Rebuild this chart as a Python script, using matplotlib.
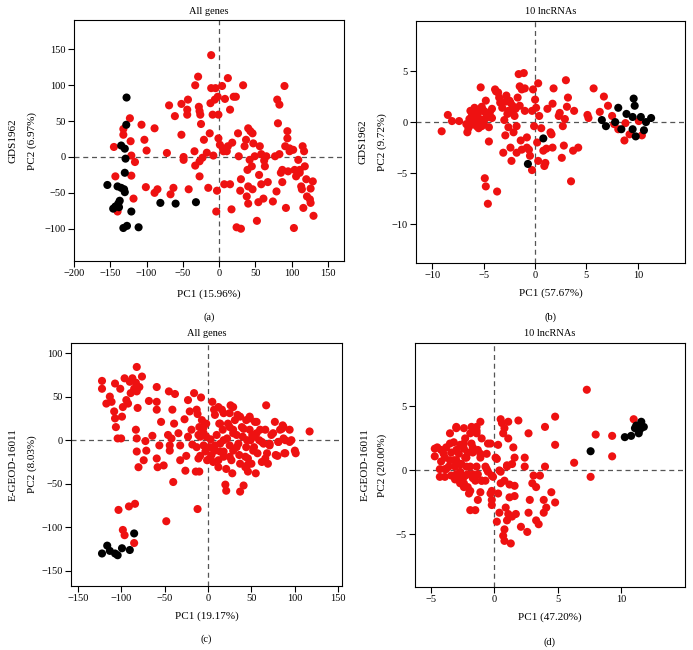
import numpy as np
import matplotlib.pyplot as plt

plt.rcParams['font.family'] = ['Liberation Serif', 'DejaVu Serif']

# ---- panel (a): GDS1962, all genes ----
a_red_x = [-145, -143, -140, -132, -132, -123, -122, -121, -116, -121, -118, -107, -103, -100, -101,
           -89, -89, -85, -72, -69, -67, -63, -61, -52, -52, -49, -49, -44, -43, -44, -42, -34, -33,
           -33, -29, -28, -27, -26, -25, -27, -27, -23, -21, -17, -15, -13, -12, -11, -11, -9, -8, -6,
           -5, -4, -3, -2, -1, -1, 1, 4, 5, 6, 7, 8, 10.5, 12, 12, 15, 15, 17, 18, 20, 23, 24, 26, 27,
           29, 30, 30, 33, 35, 37, 39, 40, 40, 38, 40, 43, 46, 42, 46, 45, 47, 49, 52, 54, 55, 56, 58,
           58, 61, 62, 63, 65, 67, 74, 77, 79, 80, 83, 81, 83, 85, 87, 87, 90, 91, 92, 94, 94, 95, 97,
           97, 102, 103, 104, 106, 109, 111, 113, 114, 115, 116, 117, 118, 120, 121, 125, 126, 126,
           129, 130, 111]
a_red_y = [14, -27, -76, 39, 31, 54, 22, 2, -7, -26, -58, 45, 24, 9, -42,
           40, -50, -45, 5.6, 72, -52, -43, 57, 74, 31, 0, -4, 66, 80, 59, -45, 8, -12,
           100, 112, 70, 64, 59, 46, -27, -6, -1, 24, 6, -43, 33, 75, 142, 96, 59, 2, 80,
           96, -76, -47, 84, 59, 26, 17, 99, 12, 8, -38, 81, 8, 15, 110, 66, -38, -73, 20, 84, 84,
           -98, 33, 1, -47, -100, -31, 100, 15, 24, -18, 40, -41, -55, -65, 36, 33, -4, -45, -13, 19,
           1, -89, -63, -25, 15, 4, -38, -58, -5, -13, 1, -35, -62, 1, -48, 80, 73, 47, 4, -22, -18,
           -35, 99, 15, -71, 36, 26, -20, 12, 8, 10, -99, -18, -27, -4, -18, -41, -45, 15, -71, 8,
           -13, -31, -55, -59, -44, -64, -34, -82, -22]
a_blk_x = [-127.6, -128, -135, -130, -129, -130, -154, -140, -135, -131, -130, -137, -139, -143, -146,
           -138, -121, -81, -60, -32, -132, -127, -111]
a_blk_y = [82.9, 44.9, 16, 11.6, -2.3, -22, -39, -41, -43, -45, -49, -61, -65, -69, -72,
           -70, -76, -64, -65, -63, -99, -96, -98]

# ---- panel (b): GDS1962, 10 lncRNAs ----
b_red_x = [-9.1, -8.5, -8.1, -7.4, -6.7, -6.6, -6.3, -6.2, -6.0, -5.9, -5.8, -5.7, -5.5, -5.4, -5.3,
           -5.2, -5.0, -4.9, -4.8, -4.7, -4.9, -4.8, -4.6, -4.5, -4.5, -4.2, -4.2, -3.9, -3.7, -3.6,
           -3.5, -3.4, -3.2, -3.1, -2.9, -2.8, -2.7, -2.6, -2.5, -2.4, -2.3, -2.2, -2.1, -2.0, -1.9,
           -1.8, -1.8, -1.7, -1.6, -1.5, -1.4, -1.3, -1.3, -1.1, -1.0, -1.0, -0.8, -0.8, -0.6, -0.5,
           -0.3, -0.3, -0.2, -0.1, 0.0, 0.1, 0.2, 0.3, 0.3, 0.4, 0.6, 0.8, 0.9, 1.0, 1.1, 1.2, 1.5,
           1.6, 1.7, 1.7, 1.8, 2.3, 2.4, 2.6, 2.7, 2.8, 2.9, 3.0, 3.2, 3.1, 3.5, 3.7, 3.8, 4.2, 5.1,
           5.2, 5.7, 6.3, 6.7, 7.1, 7.5, 7.7, 8.1, 8.7, 8.8, 9.2, 10.4, 10.1,
           -6.4, -6.1, -5.6, -5.3, -5.1, -4.6, -6.5, -5.8, -5.0, -6.0, -4.4, -3.0, -2.4,
           -5.6, -4.8, -6.3, -5.2, -4.4, -6.1, -5.5, -3.8, -2.9, -2.2, -1.5, -2.6]
b_red_y = [-0.9, 0.7, 0.1, 0.1, -0.2, -1.0, 1.1, 0.5, 0.6, 1.4, 0.1, -0.4, 1.0, 0.3, 3.4,
           -0.4, 1.1, 0.3, 2.1, 0.8, -5.5, -6.3, -8.0, -0.5, -1.9, 1.3, 0.4, 3.2, -6.8, 2.9,
           2.4, 1.9, 1.4, -3.0, -1.3, 2.6, 0.8, -0.5, 2.1, -2.5, -3.8, 1.6, -1.0, 0.6, 1.3,
           -3.0, -0.4, 2.4, 4.7, 3.5, -1.8, 3.2, -2.7, 4.8, 1.1, 3.3, -1.5, -2.5, -2.7, -3.3,
           -4.7, 1.1, 3.2, -0.4, 2.2, 1.4, -2.0, 3.8, -3.8, 0.6, -0.6, -2.8, -4.3, -4.0, -2.6, 1.3, -1.0,
           -1.2, -2.5, 1.8, 3.3, 0.6, 0.9, -3.5, -0.4, -2.3, 0.3, 4.1, 2.4, 1.5, -5.8, -2.8, 1.1, -2.5, 0.7,
           0.4, 3.3, 1.0, 2.5, 1.6, 0.6, -0.2, -0.7, -1.8, -0.1, -1.2, -1.3, 0.1,
           0.3, 0.9, 0.8, 0.0, 1.2, 0.5, -0.6, 0.9, -0.2, 0.2, 0.6, 0.2, 1.9,
           0.3, 0.9, -0.3, 1.5, 1.0, 0.8, -0.6, 3.0, 2.0, 0.9, 1.6, 1.1]
b_blk_x = [0.8, -0.7, 6.5, 6.9, 7.8, 8.1, 8.4, 8.9, 9.6, 9.7, 9.5, 9.5, 9.8, 10.3, 10.6, 10.8, 11.3]
b_blk_y = [-1.6, -4.1, 0.2, -0.4, 0.0, 1.4, -0.7, 0.8, 2.3, 1.6, 0.5, -0.7, -1.4, 0.5, -0.8, 0.0, 0.4]

# ---- panel (c): E-GEOD-16011, all genes ----
c_red_x = [-122, -122, -117, -113, -111, -107, -108, -107, -106, -104, -101, -100, -99, -98, -96, -94,
           -92, -90, -89, -87, -85, -83, -82, -82, -81, -83, -82, -82, -80, -79, -76, -103, -91, -84,
           -98, -96, -85, -72, -71, -74, -68, -64, -59, -59, -59, -59, -58, -56, -54, -51, -48, -46,
           -45, -44, -44, -42, -41, -40, -39, -38, -34, -32, -32, -27, -26, -25, -23, -23, -21, -19,
           -18, -16, -14, -13, -12, -11, -12, -10, -10, -9, -8, -7, -6, -5, -5, -3, -2, -2, -1, 2, 3,
           4, 5, 6, 7, 8, 8, 10, 12, 12, 13, 14, 16, 17, 18, 18, 20, 21, 21, 23, 25, 25, 26, 27, 28,
           29, 29, 31, 33, 34, 35, 36, 37, 39, 40, 41, 43, 44, 44, 46, 46, 48, 48, 49, 50, 51, 53, 54,
           55, 56, 57, 59, 62, 64, 66, 67, 68, 69, 71, 73, 77, 78, 81, 85, 86, 87, 89, 94, 96, 100,
           101, 117,
           29, 37, 48, 56, 41, 29, 22, 14, 8, 33, 45, 54, 62, 71, 81, 89, 94, 52, 43, 25, 18, 2, 12,
           37, 45, 66, 80, 88, -5, -9, -13, -3, -11, 18, 14, 25, 60, 75, 87, 83]
c_red_y = [68, 59, 42, 50, 44, 65, 33, 25, 15, 2, 59, 2, 27, 38, 71, 46,
           42, 67, 54, 71, 59, 66, 56, 84, 37, 12, 2, -13, -31, 61, 73, -80, -76, -73,
           -103, -109, -118, -1, -12, -23, 45, 5, 61, 44, 35, -21, -31, -6, 21, -29, -93, 6,
           56, -6, -12, 2, 35, -48, 19, 53, 8, -6, -23, 24, -35, -18, 4, 46, 33, 12,
           -5, 54, -36, 35, 30, 6, -79, 15, -36, -18, 49, 23, 13, 8, -6, -13, 19, 4, -23, -8, 1,
           -17, 44, -25, 35, 29, -6, 6, -31, 38, 19, -13, 35, 12, 0, -19, -51, -58, -33, 19, 31, -6, 40, -23,
           -38, 12, -12, 23, 6, 29, -4, -17, -59, 15, 4, -52, -31, -8, 23, -21, -36, 12, 25, 0, -27, 6, -8, 21,
           -38, 8, -15, 0, -25, -4, 12, 40, -15, -27, -6, 6, 21, -17, -2, 13, 17, 2, -15, 12, 0, -12,
           -15, 10,
           38, 27, 27, 21, 13, 8, 2, -4, -12, -8, 0, 4, -2, -4, -2, 0, -2, -12, -19, -19, -13, -21, -23,
           -27, -29, -21, -18, -15, 15, 4, -8, -8, -21, 31, 19, 15, 12, 8, 15, 12]
c_blk_x = [-122, -116, -113, -107, -104, -99, -90, -85]
c_blk_y = [-130, -121, -127, -130, -132, -124, -126, -107]

# ---- panel (d): E-GEOD-16011, 10 lncRNAs ----
d_red_x = [7.3, 11.0, 8.0, 9.3, 9.3, 7.6, 6.3, 4.8, 4.8, 4.0, 4.0, 2.7, 1.9, 2.4, 2.4, 3.1, 3.6, 3.0,
           3.3, 4.5, 4.8, 3.9, 4.1, 3.9, 2.8, 2.7, 3.3, 3.5, 2.6, 2.1, 1.7, 1.6, 1.6, 1.2, 1.2, 1.1,
           1.0, 0.9, 0.8, 0.7, 0.8, 1.3, 1.4, 0.4, 0.2, -0.2, -0.2, -0.2, -0.3, 0.3, 0.5, 0.8, 0.5,
           1.0, 1.4, 1.6, 1.5, 1.1, 0.7, 0.8, 0.5, 0.6, 1.1, 0.3, 0.1, 0.2, -0.2, -0.5, -0.6, -0.5,
           -1.0, -1.4, -1.1, -1.4, -1.8, -2.1, -1.7, -1.3, -1.1, -1.4, -1.3, -1.0, -1.5, -1.1, -1.3,
           -1.5, -1.9, -2.0, -2.1, -2.4, -2.7, -2.7, -3.1, -3.4, -3.9, -4.3, -4.7, -4.7, -4.2, -3.8,
           -3.9, -3.5, -3.4, -3.2, -3.0, -2.4, -2.7, -2.8, -3.0, -2.6, -2.3, -2.4, -2.2, -2.1, -3.1,
           -3.6, -2.3, -1.9, -1.8, -3.9, -4.2, -2.7, -2.4, -1.7, -0.7, -0.7,
           -4.5, -4.0, -3.5, -3.0, -2.4, -3.2, -2.7, -2.2, -1.9, -1.7, -1.1, -3.8, -3.0, -2.3, -1.7,
           -1.0, -4.3, -2.4, -1.9, -0.6, -0.1, 0.4, 1.0, -0.3, -3.5, -1.4, -3.0]
d_red_y = [6.3, 4.0, 2.8, 2.7, 1.1, -0.5, 0.6, 4.2, 2.0, 3.4, 0.3, 2.9, 3.9, 1.0, 0.3, -0.4, -0.4, -1.0,
           -1.3, -1.7, -2.5, -2.3, -2.9, -3.3, -2.3, -3.3, -3.9, -4.2, -4.8, -4.4, -3.4, -1.2, -2.0, -1.1, -2.1, -3.4,
           -3.9, -2.9, -4.6, -5.1, -5.5, -5.7, -3.6, -3.3, -4.0, -2.3, -2.7, -1.6, -1.8, -1.8, -1.0, -0.8, -0.1,
           0.3, 0.5, 1.0, 1.8, 2.5, 2.9, 3.3, 4.0, 3.7, 3.8, 2.0, 1.0, 0.9, -0.4, -0.1, 1.3, 2.1,
           2.5, 2.9, 3.8, 3.4, 2.1, 1.4, 1.4, 1.6, 1.0, 0.3, -0.3, -0.8, -0.8, -1.7, -2.3,
           -3.1, -3.1, -1.8, -1.3, -1.3, -1.0, -0.5, -0.7, -0.4, -0.5, 0.1, 1.1, 1.7, 1.6, 1.8,
           1.0, 0.8, 1.4, 2.2, 3.3, 3.3, 2.0, 1.3, 0.8, 0.5, 1.0, 1.7, 0.3, -0.3, 0.3,
           0.3, 2.5, 2.9, 3.4, 0.1, 0.7, -0.1, -0.5, -0.3, 0.3, -0.8,
           1.8, 1.3, 2.1, 1.6, 2.1, 0.8, 0.5, 1.0, 0.3, 1.8, 1.3, 0.1, -0.3, -0.4, -0.6,
           -0.8, -0.5, -1.0, -1.6, 0.1, -0.5, 0.0, 0.4, 2.1, 2.9, 3.1, 3.4]
d_blk_x = [7.6, 10.3, 10.8, 11.1, 11.2, 11.4, 11.6, 11.8, 11.5]
d_blk_y = [1.5, 2.6, 2.7, 3.3, 3.5, 2.9, 3.8, 3.4, 3.2]

W, H = 693, 650
RED = '#ee1111'

panels = [
    dict(box=(74, 20, 344, 261), red=(a_red_x, a_red_y), blk=(a_blk_x, a_blk_y),
         xlim=(-200, 172), ylim=(-145, 191), xt=[-200, -150, -100, -50, 0, 50, 100, 150],
         yt=[-100, -50, 0, 50, 100, 150], title='All genes', xlab='PC1 (15.96%)',
         ylab=('GDS1962', 'PC2 (6.97%)'), ylx=(13, 32), xly=294, tag='(a)', tagy=317),
    dict(box=(416, 21, 685, 263), red=(b_red_x, b_red_y), blk=(b_blk_x, b_blk_y),
         xlim=(-11.6, 14.6), ylim=(-13.8, 9.9), xt=[-10, -5, 0, 5, 10],
         yt=[-10, -5, 0, 5], title='10 lncRNAs', xlab='PC1 (57.67%)',
         ylab=('GDS1962', 'PC2 (9.72%)'), ylx=(363, 382), xly=293, tag='(b)', tagy=317),
    dict(box=(71, 343, 342, 586), red=(c_red_x, c_red_y), blk=(c_blk_x, c_blk_y),
         xlim=(-157.7, 154.3), ylim=(-167.3, 111.5), xt=[-150, -100, -50, 0, 50, 100, 150],
         yt=[-150, -100, -50, 0, 50, 100], title='All genes', xlab='PC1 (19.17%)',
         ylab=('E-GEOD-16011', 'PC2 (8.03%)'), ylx=(13, 32), xly=616, tag='(c)', tagy=639),
    dict(box=(415, 343, 685, 587), red=(d_red_x, d_red_y), blk=(d_blk_x, d_blk_y),
         xlim=(-6.26, 15.05), ylim=(-9.1, 9.95), xt=[-5, 0, 5, 10],
         yt=[-5, 0, 5], title='10 lncRNAs', xlab='PC1 (47.20%)',
         ylab=('E-GEOD-16011', 'PC2 (20.00%)'), ylx=(365, 382), xly=617, tag='(d)', tagy=642),
]

fig = plt.figure(figsize=(W / 100, H / 100), dpi=100)

for p in panels:
    l, t, r, b = p['box']
    ax = fig.add_axes([l / W, 1 - b / H, (r - l) / W, (b - t) / H])
    ax.axhline(0, color='#555555', lw=0.9, ls=(0, (4, 3)), zorder=1)
    ax.axvline(0, color='#555555', lw=0.9, ls=(0, (4, 3)), zorder=1)
    ax.scatter(*p['red'], s=34, c=RED, edgecolors='none', zorder=2)
    ax.scatter(*p['blk'], s=34, c='black', edgecolors='none', zorder=3)
    ax.set_xlim(p['xlim'])
    ax.set_ylim(p['ylim'])
    ax.set_xticks(p['xt'])
    ax.set_yticks(p['yt'])
    ax.set_xticklabels([str(v).replace('-', '\u2212') for v in p['xt']])
    ax.set_yticklabels([str(v).replace('-', '\u2212') for v in p['yt']])
    ax.tick_params(direction='out', length=4, width=0.8, labelsize=7.5, pad=2)
    for sp in ax.spines.values():
        sp.set_linewidth(0.8)
    cx = (l + r) / 2 / W
    cy = 1 - (t + b) / 2 / H
    fig.text(cx, 1 - (t - 9) / H, p['title'], ha='center', va='center', fontsize=7.5)
    fig.text(cx, 1 - p['xly'] / H, p['xlab'], ha='center', va='center', fontsize=8)
    fig.text(cx, 1 - p['tagy'] / H, p['tag'], ha='center', va='center', fontsize=7.5)
    for txt, xx in zip(p['ylab'], p['ylx']):
        fig.text(xx / W, cy, txt, rotation=90, ha='center', va='center', fontsize=8)

fig.savefig('out.png', dpi=100)
